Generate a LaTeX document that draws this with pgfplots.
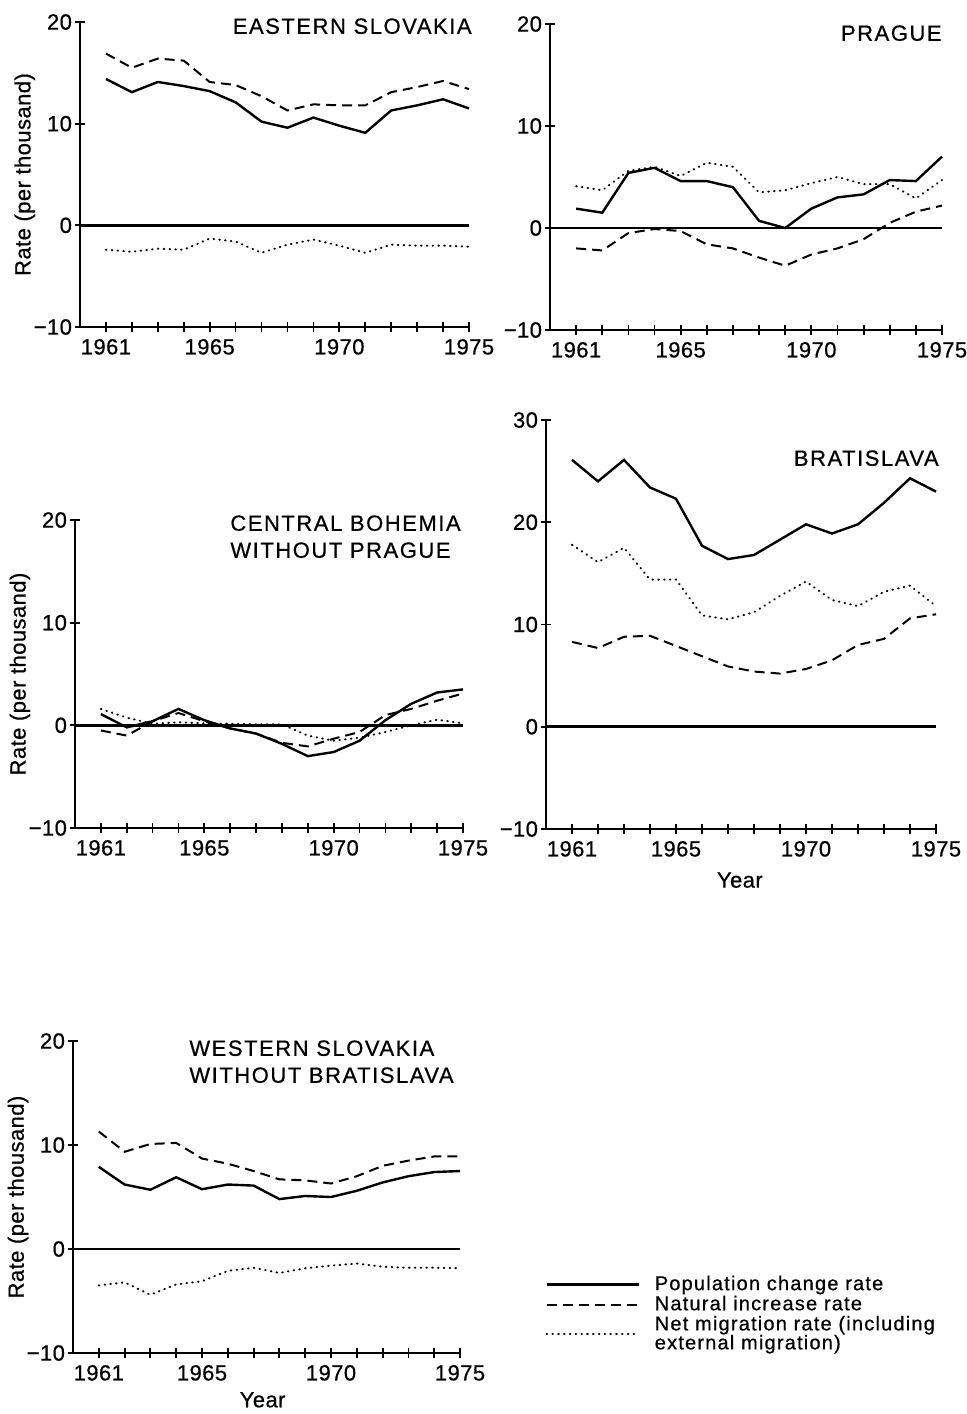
\documentclass[border=0pt]{standalone}
\usepackage{fontspec}
\setmainfont{Liberation Sans}[LetterSpace=2, FakeBold=0.6]
\usepackage{pgfplots}
\usepackage{pgfplotstable}
\pgfplotsset{compat=1.18}

\newcommand\legfont{\fontsize{10}{9.5}\selectfont\addfontfeatures{LetterSpace=6}\lineskiplimit=-20pt\relax}

% rates per thousand
\pgfplotstableread{
year pop nat mig
1961 14.4 16.9 -2.4
1962 13.1 15.5 -2.6
1963 14.1 16.4 -2.3
1964 13.7 16.2 -2.4
1965 13.2 14.1 -1.3
1966 12.1 13.8 -1.6
1967 10.2 12.7 -2.7
1968 9.6 11.3 -1.9
1969 10.6 11.9 -1.4
1970 9.8 11.8 -2.0
1971 9.1 11.8 -2.7
1972 11.3 13.1 -1.9
1973 11.8 13.6 -2.0
1974 12.4 14.2 -2.0
1975 11.5 13.4 -2.1
}\eastsk

\pgfplotstableread{
year pop nat mig
1961 1.9 -2.0 4.1
1962 1.5 -2.2 3.7
1963 5.4 -0.5 5.6
1964 5.9 -0.1 6.0
1965 4.6 -0.3 5.1
1966 4.6 -1.6 6.4
1967 4.0 -2.0 6.0
1968 0.7 -2.9 3.5
1969 0.0 -3.7 3.7
1970 1.9 -2.6 4.4
1971 3.0 -2.0 5.0
1972 3.3 -1.1 4.3
1973 4.7 0.5 4.3
1974 4.6 1.6 2.9
1975 7.0 2.2 4.7
}\prague

\pgfplotstableread{
year pop nat mig
1961 1.1 -0.5 1.6
1962 -0.2 -1.0 0.75
1963 0.4 0.4 0.15
1964 1.6 1.2 0.3
1965 0.5 0.4 0.2
1966 -0.3 -0.3 0.15
1967 -0.8 -0.8 0.1
1968 -1.8 -1.7 0.1
1969 -3.0 -2.05 -1.0
1970 -2.6 -1.3 -1.5
1971 -1.5 -0.65 -1.2
1972 0.5 1.0 -0.65
1973 2.1 1.6 0.0
1974 3.2 2.4 0.55
1975 3.5 3.1 0.2
}\cbohemia

\pgfplotstableread{
year pop nat mig
1961 26.1 8.3 17.8
1962 24.0 7.7 16.1
1963 26.1 8.8 17.5
1964 23.4 8.9 14.4
1965 22.3 7.9 14.4
1966 17.7 6.9 10.9
1967 16.4 5.9 10.5
1968 16.8 5.4 11.2
1969 18.3 5.2 12.8
1970 19.8 5.65 14.2
1971 18.9 6.5 12.4
1972 19.8 8.0 11.8
1973 21.9 8.6 13.2
1974 24.3 10.6 13.8
1975 23.0 11.0 11.8
}\bratislava

\pgfplotstableread{
year pop nat mig
1961 7.9 11.3 -3.5
1962 6.2 9.35 -3.2
1963 5.7 10.1 -4.4
1964 6.9 10.2 -3.4
1965 5.75 8.7 -3.1
1966 6.2 8.2 -2.1
1967 6.1 7.5 -1.8
1968 4.8 6.7 -2.3
1969 5.1 6.6 -1.85
1970 5.0 6.3 -1.6
1971 5.6 7.0 -1.4
1972 6.4 8.0 -1.7
1973 7.0 8.5 -1.8
1974 7.4 8.9 -1.8
1975 7.5 8.9 -1.85
}\wslovakia

\pgfplotsset{
  panel/.style={
    scale only axis, clip=false,
    xmin=1960, xmax=1975,
    axis lines=left, axis line style={-, line width=1.2pt},
    tick align=center, major tick length=5pt, minor tick length=5pt,
    every tick/.style={black, line width=0.9pt},
    xtick={1961,1965,1970,1975}, xticklabels={1961,1965,1970,1975},
    minor xtick={1962,1963,...,1974},
    tick label style={font=\fontsize{11}{13}\selectfont},
    yticklabel style={xshift=2pt},
    label style={font=\fontsize{11}{13}\selectfont},
    ylabel style={at={(axis description cs:-0.142,0.5)}, anchor=center},
  },
  pop/.style={black, line width=1.2pt},
  nat/.style={black, line width=1pt, dash pattern=on 5pt off 3pt},
  mig/.style={black, line width=1pt, line cap=round, dash pattern=on 0.3pt off 2.6pt},
  zero/.style={black, line width=1.3pt, forget plot},
}

\begin{document}
\begin{tikzpicture}[font=\fontsize{11}{13}\selectfont,
  title/.style={inner sep=0pt, align=left,
    font=\fontsize{11}{13.5}\selectfont\addfontfeatures{LetterSpace=7}}]
\useasboundingbox (0pt,0pt) rectangle (483.5pt,-707pt);

% Eastern Slovakia
\begin{axis}[panel, at={(40pt,-163.5pt)}, anchor=south west,
  width=194.5pt, height=152.5pt, ymin=-10, ymax=20,
  ytick={-10,0,10,20}, yticklabels={−10,0,10,20},
  ylabel={Rate (per thousand)}]
\addplot[zero] coordinates {(1960,0) (1975,0)};
\addplot[pop] table[x=year,y=pop]{\eastsk};
\addplot[nat] table[x=year,y=nat]{\eastsk};
\addplot[mig] table[x=year,y=mig]{\eastsk};
\end{axis}

% Prague
\begin{axis}[panel, at={(275pt,-165pt)}, anchor=south west,
  width=196pt, height=153pt, ymin=-10, ymax=20,
  ytick={-10,0,10,20}, yticklabels={−10,0,10,20}]
\addplot[zero] coordinates {(1960,0) (1975,0)};
\addplot[pop] table[x=year,y=pop]{\prague};
\addplot[nat] table[x=year,y=nat]{\prague};
\addplot[mig] table[x=year,y=mig]{\prague};
\end{axis}

% Central Bohemia without Prague
\begin{axis}[panel, at={(37.5pt,-414pt)}, anchor=south west,
  width=194pt, height=154pt, ymin=-10, ymax=20,
  ytick={-10,0,10,20}, yticklabels={−10,0,10,20},
  ylabel={Rate (per thousand)}]
\addplot[zero] coordinates {(1960,0) (1975,0)};
\addplot[pop] table[x=year,y=pop]{\cbohemia};
\addplot[nat] table[x=year,y=nat]{\cbohemia};
\addplot[mig] table[x=year,y=mig]{\cbohemia};
\end{axis}

% Bratislava
\begin{axis}[panel, at={(273pt,-414.5pt)}, anchor=south west,
  width=195pt, height=204.5pt, ymin=-10, ymax=30,
  ytick={-10,0,10,20,30}, yticklabels={−10,0,10,20,30},
  xlabel={Year}, xlabel style={at={(axis description cs:0.497,-0.125)}, anchor=center}]
\addplot[zero] coordinates {(1960,0) (1975,0)};
\addplot[pop] table[x=year,y=pop]{\bratislava};
\addplot[nat] table[x=year,y=nat]{\bratislava};
\addplot[mig] table[x=year,y=mig]{\bratislava};
\end{axis}

% Western Slovakia without Bratislava, carries the legend
\begin{axis}[panel, at={(36.5pt,-676.5pt)}, anchor=south west,
  width=193.5pt, height=156pt, ymin=-10, ymax=20,
  ytick={-10,0,10,20}, yticklabels={−10,0,10,20},
  ylabel={Rate (per thousand)},
  xlabel={Year}, xlabel style={at={(axis description cs:0.49,-0.15)}, anchor=center},
  legend style={at={(axis description cs:1.2196,0.262)}, anchor=north west,
    draw=none, fill=none, inner sep=0pt, column sep=5.5pt, row sep=-2.7pt,
    cells={anchor=west, align=left, inner sep=0.5pt}, font=\legfont},
  legend image code/.code={\draw[#1] (0pt,0pt) -- (46pt,0pt);}]
\addplot[zero] coordinates {(1960,0) (1975,0)};
\addplot[pop] table[x=year,y=pop]{\wslovakia};
\addlegendentry{Population change rate}
\addplot[nat] table[x=year,y=nat]{\wslovakia};
\addlegendentry{Natural increase rate}
\addplot[mig] table[x=year,y=mig]{\wslovakia};
\addlegendentry{Net migration rate (including\\external migration)}
\end{axis}

\node[title, anchor=north east] at (236pt,-9pt) {EASTERN SLOVAKIA};
\node[title, anchor=north east] at (471pt,-12.5pt) {PRAGUE};
\node[title, anchor=north west] at (115pt,-257.5pt) {CENTRAL BOHEMIA\\WITHOUT PRAGUE};
\node[title, anchor=north east] at (469.5pt,-225pt) {BRATISLAVA};
\node[title, anchor=north west] at (94.5pt,-520pt) {WESTERN SLOVAKIA\\WITHOUT BRATISLAVA};
\end{tikzpicture}
\end{document}
